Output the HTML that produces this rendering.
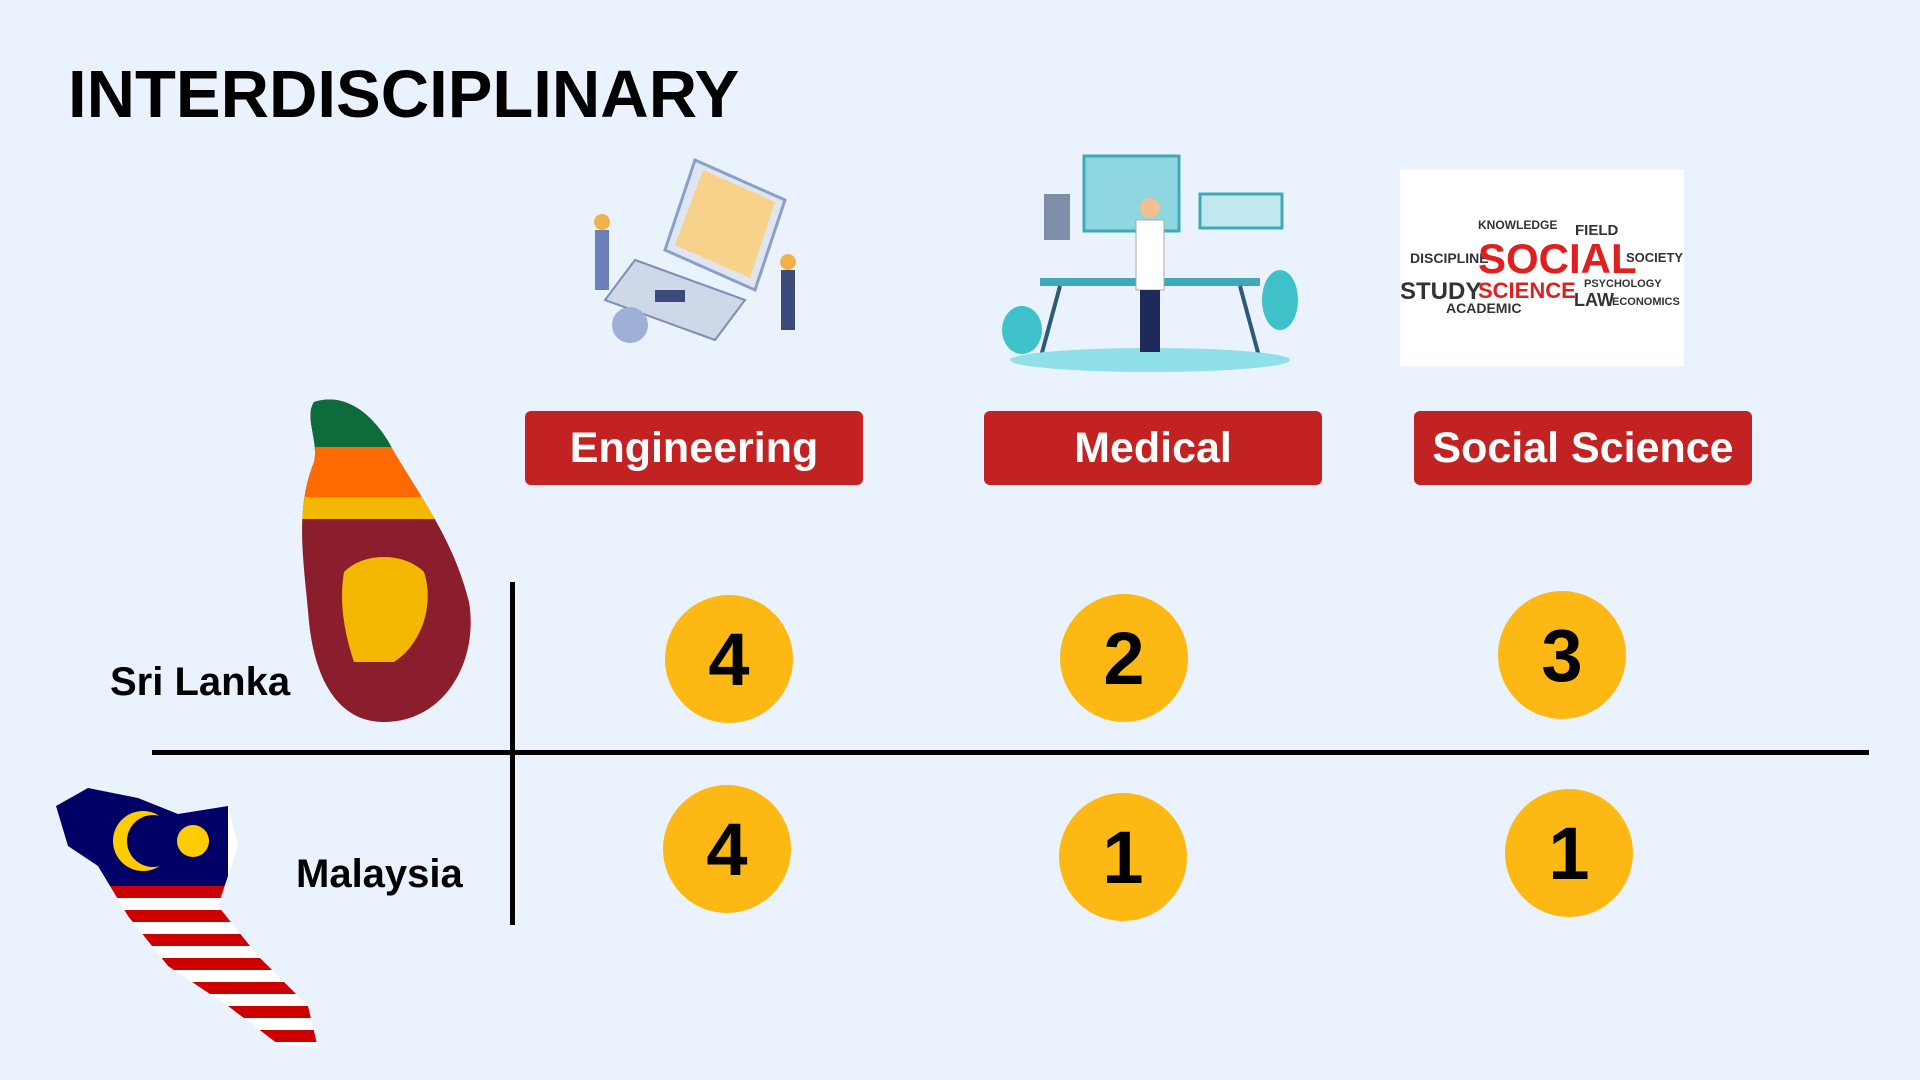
<!DOCTYPE html>
<html><head><meta charset="utf-8"><style>
*{margin:0;padding:0;box-sizing:border-box}
body{width:1920px;height:1080px;background:#EAF2FD;position:relative;overflow:hidden;font-family:"Liberation Sans",sans-serif}
.abs{position:absolute}
.title{left:68px;top:56px;font-size:67px;font-weight:bold;color:#000}
.btn{position:absolute;top:411px;width:338px;height:74px;background:#C22222;border-radius:6px;color:#fff;font-weight:bold;font-size:43px;display:flex;align-items:center;justify-content:center}
.c{position:absolute;width:128px;height:128px;border-radius:50%;background:#FDB813;display:flex;align-items:center;justify-content:center;font-weight:bold;font-size:74px;color:#000}
.lbl{position:absolute;font-weight:bold;font-size:40px;color:#000}
</style></head><body>
<div class="abs title">INTERDISCIPLINARY</div>

<svg class="abs" style="left:585px;top:140px" width="230" height="220" viewBox="0 0 230 220">
<polygon points="110,20 200,60 170,150 80,110" fill="#dfe6f2" stroke="#8aa0c8" stroke-width="3"/>
<polygon points="118,30 190,62 165,138 90,105" fill="#f6d28a"/>
<polygon points="50,120 160,160 130,200 20,160" fill="#cfd8e8" stroke="#7e8fb5" stroke-width="2"/>
<rect x="70" y="150" width="30" height="12" fill="#3b4a78"/>
<circle cx="45" cy="185" r="18" fill="#9fb0d6"/>
<rect x="10" y="90" width="14" height="60" fill="#6b7fb8"/><circle cx="17" cy="82" r="8" fill="#f1b24a"/>
<rect x="196" y="130" width="14" height="60" fill="#3b4a78"/><circle cx="203" cy="122" r="8" fill="#f1b24a"/>
</svg>

<svg class="abs" style="left:1000px;top:150px" width="300" height="225" viewBox="0 0 300 225">
<rect x="84" y="6" width="95" height="75" fill="#8fd7e0" stroke="#3fa9b8" stroke-width="3"/>
<rect x="200" y="44" width="82" height="34" fill="#bfe9ee" stroke="#3fa9b8" stroke-width="3"/>
<rect x="44" y="44" width="26" height="46" fill="#7d8fa8"/>
<rect x="40" y="128" width="220" height="8" fill="#3fa9b8"/>
<line x1="60" y1="136" x2="40" y2="210" stroke="#2d5a7a" stroke-width="4"/>
<line x1="240" y1="136" x2="260" y2="210" stroke="#2d5a7a" stroke-width="4"/>
<ellipse cx="150" cy="210" rx="140" ry="12" fill="#8fe0e8"/>
<rect x="136" y="70" width="28" height="70" fill="#fff" stroke="#aaa"/>
<rect x="140" y="140" width="20" height="62" fill="#1e2a5a"/>
<circle cx="150" cy="58" r="10" fill="#f0c090"/>
<ellipse cx="22" cy="180" rx="20" ry="24" fill="#3fc1c9"/>
<ellipse cx="280" cy="150" rx="18" ry="30" fill="#3fc1c9"/>
</svg>

<div class="abs" style="left:1400px;top:170px;width:284px;height:196px;background:#fff;font-weight:bold;color:#333">
<div class="abs" style="left:10px;top:80px;font-size:14px">DISCIPLINE</div>
<div class="abs" style="left:78px;top:48px;font-size:12px">KNOWLEDGE</div>
<div class="abs" style="left:175px;top:52px;font-size:15px">FIELD</div>
<div class="abs" style="left:78px;top:68px;font-size:42px;color:#e02020;line-height:42px">SOCIAL</div>
<div class="abs" style="left:0px;top:108px;font-size:24px">STUDY</div>
<div class="abs" style="left:78px;top:108px;font-size:22px;color:#e02020">SCIENCE</div>
<div class="abs" style="left:226px;top:80px;font-size:13px">SOCIETY</div>
<div class="abs" style="left:174px;top:120px;font-size:18px">LAW</div>
<div class="abs" style="left:46px;top:130px;font-size:14px">ACADEMIC</div>
<div class="abs" style="left:212px;top:126px;font-size:11px">ECONOMICS</div>
<div class="abs" style="left:184px;top:108px;font-size:11px">PSYCHOLOGY</div>
</div>

<div class="btn" style="left:525px">Engineering</div>
<div class="btn" style="left:984px">Medical</div>
<div class="btn" style="left:1414px">Social Science</div>

<svg class="abs" style="left:284px;top:392px" width="192" height="334" viewBox="0 0 192 334">
<defs><clipPath id="sl"><path d="M30,10 C60,0 90,20 110,60 C140,110 170,150 185,210 C195,270 160,330 100,330 C50,330 30,280 25,230 C20,170 10,120 30,70 C35,50 20,25 30,10Z"/></clipPath></defs>
<g clip-path="url(#sl)">
<rect width="192" height="334" fill="#8B1E2C"/>
<rect x="0" y="0" width="192" height="55" fill="#0E6B3C"/>
<rect x="0" y="55" width="192" height="50" fill="#FF6A00"/>
<rect x="0" y="105" width="192" height="22" fill="#F5B800"/>
<rect x="0" y="105" width="14" height="229" fill="#F5B800"/>
<path d="M60,180 C80,160 120,160 140,180 C150,210 140,250 110,270 L70,270 C60,240 55,210 60,180Z" fill="#F5B800"/>
</g></svg>

<svg class="abs" style="left:48px;top:786px" width="276" height="272" viewBox="0 0 276 272">
<defs><clipPath id="my"><path d="M8,20 L40,2 L90,12 L130,28 L180,20 L190,60 L170,120 L210,170 L260,220 L270,262 L230,258 L180,220 L120,180 L80,130 L50,80 L20,60Z"/></clipPath></defs>
<g clip-path="url(#my)">
<rect width="276" height="272" fill="#fff"/>
<g fill="#CC0001">
<rect y="100" width="276" height="12"/><rect y="124" width="276" height="12"/><rect y="148" width="276" height="12"/><rect y="172" width="276" height="12"/><rect y="196" width="276" height="12"/><rect y="220" width="276" height="12"/><rect y="244" width="276" height="12"/></g>
<rect width="180" height="100" fill="#010066"/>
<circle cx="95" cy="55" r="30" fill="#FFCC00"/><circle cx="105" cy="55" r="26" fill="#010066"/>
<circle cx="145" cy="55" r="16" fill="#FFCC00"/>
</g></svg>

<div class="abs" style="left:152px;top:750px;width:1717px;height:5px;background:#000"></div>
<div class="abs" style="left:510px;top:582px;width:5px;height:343px;background:#000"></div>

<div class="lbl" style="left:110px;top:660px">Sri Lanka</div>
<div class="lbl" style="left:296px;top:852px">Malaysia</div>

<div class="c" style="left:665px;top:595px">4</div>
<div class="c" style="left:1060px;top:594px">2</div>
<div class="c" style="left:1498px;top:591px">3</div>
<div class="c" style="left:663px;top:785px">4</div>
<div class="c" style="left:1059px;top:793px">1</div>
<div class="c" style="left:1505px;top:789px">1</div>
</body></html>
